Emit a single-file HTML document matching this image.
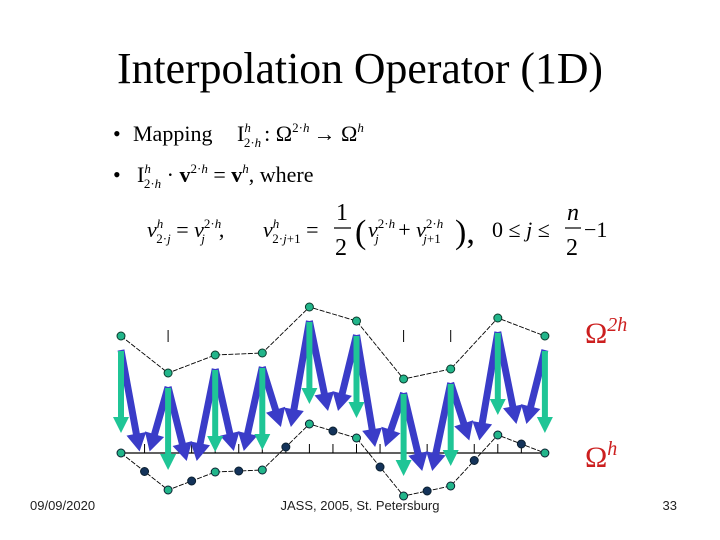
<!DOCTYPE html>
<html><head><meta charset="utf-8"><style>
html,body{margin:0;padding:0;background:#fff;}
svg{display:block;}
.serif{font-family:"Liberation Serif",serif;}
.sans{font-family:"Liberation Sans",sans-serif;}
</style></head><body>
<svg id="slide" width="720" height="540" viewBox="0 0 720 540">
<text class="serif" x="117" y="83" font-size="44" textLength="486" lengthAdjust="spacingAndGlyphs">Interpolation Operator (1D)</text>

<g class="serif" font-size="22">
<text x="113" y="141">•</text>
<text x="133" y="141">Mapping</text>
<text x="237" y="141">I<tspan font-size="13" dy="-9" font-style="italic">h</tspan><tspan font-size="13" dy="15" dx="-7">2·<tspan font-style="italic">h</tspan></tspan><tspan dy="-6" dx="3">: Ω</tspan><tspan font-size="13" dy="-9">2·<tspan font-style="italic">h</tspan></tspan><tspan dy="9" dx="4">→ Ω</tspan><tspan font-size="13" dy="-9" font-style="italic">h</tspan></text>
</g>
<g class="serif" font-size="22">
<text x="113" y="182">•</text>
<text x="137" y="182">I<tspan font-size="13" dy="-9" font-style="italic">h</tspan><tspan font-size="13" dy="15" dx="-7">2·<tspan font-style="italic">h</tspan></tspan><tspan dy="-6"> · </tspan><tspan font-weight="bold">v</tspan><tspan font-size="13" dy="-9">2·<tspan font-style="italic">h</tspan></tspan><tspan dy="9"> = </tspan><tspan font-weight="bold">v</tspan><tspan font-size="13" dy="-9" font-style="italic">h</tspan><tspan dy="9">,  where</tspan></text>
</g>
<g class="serif" font-size="22">
<text x="147" y="237"><tspan font-style="italic">v</tspan><tspan font-size="13" dy="-9" font-style="italic">h</tspan><tspan font-size="13" dy="15" dx="-7">2·<tspan font-style="italic">j</tspan></tspan><tspan dy="-6"> = </tspan><tspan font-style="italic">v</tspan><tspan font-size="13" dy="-9">2·<tspan font-style="italic">h</tspan></tspan><tspan font-size="13" dy="15" dx="-20" font-style="italic">j</tspan><tspan dy="-6" dx="14">,</tspan></text>
<text x="263" y="237"><tspan font-style="italic">v</tspan><tspan font-size="13" dy="-9" font-style="italic">h</tspan><tspan font-size="13" dy="15" dx="-7">2·<tspan font-style="italic">j</tspan>+1</tspan><tspan dy="-6"> =</tspan></text>
<text x="336" y="220" font-size="24">1</text>
<line x1="334" y1="228" x2="351" y2="228" stroke="#000" stroke-width="1.2"/>
<text x="335" y="255" font-size="24">2</text>
<text x="355" y="243" font-size="34">(</text>
<text x="368" y="237"><tspan font-style="italic">v</tspan><tspan font-size="13" dy="-9">2·<tspan font-style="italic">h</tspan></tspan><tspan font-size="13" dy="15" dx="-20" font-style="italic">j</tspan><tspan dy="-6" dx="14"> + </tspan><tspan font-style="italic">v</tspan><tspan font-size="13" dy="-9">2·<tspan font-style="italic">h</tspan></tspan><tspan font-size="13" dy="15" dx="-20" font-style="italic">j</tspan><tspan font-size="13">+1</tspan></text>
<text x="455" y="243" font-size="34">),</text>
<text x="492" y="237">0 ≤ <tspan font-style="italic">j</tspan> ≤</text>
<text x="567" y="220" font-size="24" font-style="italic">n</text>
<line x1="565" y1="228" x2="581" y2="228" stroke="#000" stroke-width="1.2"/>
<text x="566" y="255" font-size="24">2</text>
<text x="584" y="237">−1</text>
</g>

<g id="chart"></g>

<text class="serif" x="585" y="343" font-size="30" fill="#cc1f1f">Ω<tspan font-size="20" dy="-12" font-style="italic">2h</tspan></text>
<text class="serif" x="585" y="467" font-size="30" fill="#cc1f1f">Ω<tspan font-size="20" dy="-12" font-style="italic">h</tspan></text>

<text class="sans" x="30" y="510" font-size="13" fill="#222">09/09/2020</text>
<text class="sans" x="360" y="510" font-size="13" fill="#222" text-anchor="middle">JASS, 2005, St. Petersburg</text>
<text class="sans" x="677" y="510" font-size="13" fill="#222" text-anchor="end">33</text>
</svg>
<script>
// coarse grid values (pixels above baseline)
const coarseValues = [0, -37, -19, -17, 29, 15, -43, -33, 18, 0];
const coarseTicks = [1, 6, 7];

const NS = 'http://www.w3.org/2000/svg';
const g = document.getElementById('chart');
const x0 = 121, dx = 47.1;
const coarseBase = 336, fineBase = 453;
function xCoarse(j){ return x0 + j*dx; }
function xFine(i){ return x0 + i*dx/2; }
function yCoarse(v){ return coarseBase - v; }
function yFine(v){ return fineBase - v; }
function mk(tag, attrs){ const e=document.createElementNS(NS,tag); for(const k in attrs) e.setAttribute(k,attrs[k]); g.appendChild(e); return e; }
function arrowPts(x1,y1,x2,y2,sw,hw,hl){
  const L=Math.hypot(x2-x1,y2-y1), ux=(x2-x1)/L, uy=(y2-y1)/L, nx=-uy, ny=ux;
  const bx=x2-ux*hl, by=y2-uy*hl;
  const p=[[x1+nx*sw/2,y1+ny*sw/2],[bx+nx*sw/2,by+ny*sw/2],[bx+nx*hw/2,by+ny*hw/2],[x2,y2],[bx-nx*hw/2,by-ny*hw/2],[bx-nx*sw/2,by-ny*sw/2],[x1-nx*sw/2,y1-ny*sw/2]];
  return p.map(q=>q[0].toFixed(1)+','+q[1].toFixed(1)).join(' ');
}

const fineValues = [];
for(let j=0;j<coarseValues.length;j++){
  fineValues.push(coarseValues[j]);
  if(j<coarseValues.length-1) fineValues.push((coarseValues[j]+coarseValues[j+1])/2);
}
let ax = mk('line',{x1:xFine(0),y1:fineBase,x2:xFine(fineValues.length-1),y2:fineBase,stroke:'#000','stroke-width':1.3});


for(let i=1;i<fineValues.length-1;i++){
  const t = mk('line',{x1:xFine(i),y1:fineBase-9,x2:xFine(i),y2:fineBase,stroke:'#000','stroke-width':1});
  
  
}
coarseTicks.forEach(j=>{
  const t = mk('line',{x1:xCoarse(j),y1:coarseBase-6,x2:xCoarse(j),y2:coarseBase+6,stroke:'#000','stroke-width':1});
  
  
});
let pc = coarseValues.map((v,j)=>xCoarse(j)+','+yCoarse(v)).join(' ');
let l1 = mk('polyline',{points:pc,fill:'none',stroke:'#000','stroke-width':0.9,'stroke-dasharray':'5,1.5'});


let pf = fineValues.map((v,i)=>xFine(i)+','+yFine(v)).join(' ');
let l2 = mk('polyline',{points:pf,fill:'none',stroke:'#000','stroke-width':0.9,'stroke-dasharray':'5,1.5'});


// blue arrows
for(let j=0;j<coarseValues.length-1;j++){
  const mx = xFine(2*j+1), my = yFine(fineValues[2*j+1]) - 20;
  const a = mk('polygon',{points:arrowPts(xCoarse(j),yCoarse(coarseValues[j])+14,mx-5,my,7,20,18),fill:'#3a3cc8'});
  
  
  const b = mk('polygon',{points:arrowPts(xCoarse(j+1),yCoarse(coarseValues[j+1])+14,mx+5,my,7,20,18),fill:'#3a3cc8'});
  
  
}
// teal arrows
coarseValues.forEach((v,j)=>{
  const a = mk('polygon',{points:arrowPts(xCoarse(j),yCoarse(v)+15,xCoarse(j),yFine(v)-20,6,16,16),fill:'#1fc596'});
  
  
});
coarseValues.forEach((v,j)=>{
  const c = mk('circle',{cx:xCoarse(j),cy:yCoarse(v),r:4,fill:'#22b58a',stroke:'#0b3a2c','stroke-width':1});
  
  
});
fineValues.forEach((v,i)=>{
  const c = mk('circle',{cx:xFine(i),cy:yFine(v),r:4,fill:i%2?'#14335a':'#22b58a',stroke:'#0b2030','stroke-width':1});
  
  
});
</script>
</body></html>
